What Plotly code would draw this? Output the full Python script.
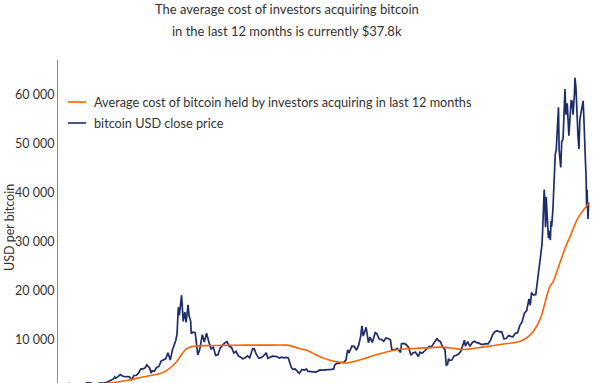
import plotly.graph_objects as go

# ---------------- data ----------------
price_dates = [
"2017-01-01","2017-01-04","2017-01-11","2017-01-15","2017-01-22","2017-01-29","2017-02-05","2017-02-12","2017-02-19","2017-02-26",
"2017-03-03","2017-03-12","2017-03-18","2017-03-26","2017-04-02","2017-04-09","2017-04-16","2017-04-23","2017-04-30","2017-05-07",
"2017-05-14","2017-05-21","2017-05-25","2017-05-28","2017-06-04","2017-06-11","2017-06-18","2017-06-25","2017-07-02","2017-07-09",
"2017-07-16","2017-07-23","2017-07-30","2017-08-06","2017-08-13","2017-08-20","2017-08-27","2017-09-01","2017-09-10","2017-09-14",
"2017-09-17","2017-09-24","2017-10-01","2017-10-08","2017-10-15","2017-10-22","2017-10-29","2017-11-05","2017-11-12","2017-11-19",
"2017-11-26","2017-11-29","2017-12-03","2017-12-07","2017-12-10","2017-12-17","2017-12-22","2017-12-27","2017-12-31",
"2018-01-06","2018-01-09","2018-01-14","2018-01-16","2018-01-21","2018-01-28","2018-02-05","2018-02-11","2018-02-19","2018-02-25",
"2018-03-04","2018-03-11","2018-03-18","2018-03-25","2018-04-01","2018-04-08","2018-04-15","2018-04-22","2018-04-29","2018-05-06",
"2018-05-13","2018-05-20","2018-05-27","2018-06-03","2018-06-10","2018-06-17","2018-06-24","2018-07-01","2018-07-08","2018-07-15",
"2018-07-24","2018-07-29","2018-08-05","2018-08-12","2018-08-19","2018-08-26","2018-09-04","2018-09-09","2018-09-16","2018-09-23",
"2018-09-30","2018-10-07","2018-10-14","2018-10-21","2018-10-28","2018-11-04","2018-11-11","2018-11-14","2018-11-20","2018-11-25",
"2018-12-02","2018-12-09","2018-12-15","2018-12-23","2018-12-30",
"2019-01-06","2019-01-10","2019-01-20","2019-01-27","2019-02-03","2019-02-10","2019-02-17","2019-02-24","2019-03-03","2019-03-10",
"2019-03-17","2019-03-24","2019-03-31","2019-04-03","2019-04-10","2019-04-17","2019-04-24","2019-05-01","2019-05-08","2019-05-13",
"2019-05-17","2019-05-26","2019-06-02","2019-06-09","2019-06-16","2019-06-22","2019-06-26","2019-06-30","2019-07-09","2019-07-16",
"2019-07-21","2019-07-28","2019-08-06","2019-08-11","2019-08-18","2019-08-25","2019-09-01","2019-09-08","2019-09-15","2019-09-22",
"2019-09-26","2019-10-06","2019-10-13","2019-10-23","2019-10-26","2019-11-03","2019-11-10","2019-11-17","2019-11-24","2019-12-01",
"2019-12-08","2019-12-17","2019-12-22","2019-12-29",
"2020-01-05","2020-01-12","2020-01-19","2020-01-26","2020-02-02","2020-02-09","2020-02-13","2020-02-16","2020-02-23","2020-03-01",
"2020-03-08","2020-03-12","2020-03-16","2020-03-19","2020-03-22","2020-03-29","2020-04-05","2020-04-12","2020-04-19","2020-04-26",
"2020-05-03","2020-05-07","2020-05-10","2020-05-17","2020-05-24","2020-05-31","2020-06-07","2020-06-14","2020-06-21","2020-06-28",
"2020-07-05","2020-07-12","2020-07-19","2020-07-26","2020-08-02","2020-08-09","2020-08-16","2020-08-23","2020-08-30","2020-09-06",
"2020-09-13","2020-09-20","2020-09-27","2020-10-04","2020-10-11","2020-10-18","2020-10-25","2020-11-01","2020-11-08","2020-11-15",
"2020-11-22","2020-11-26","2020-11-30","2020-12-06","2020-12-13","2020-12-20","2020-12-27",
"2021-01-01","2021-01-03","2021-01-06","2021-01-08","2021-01-10","2021-01-12","2021-01-14","2021-01-17","2021-01-21","2021-01-24",
"2021-01-27","2021-01-29","2021-01-31","2021-02-04","2021-02-08","2021-02-11","2021-02-14","2021-02-17","2021-02-21","2021-02-23",
"2021-02-26","2021-02-28","2021-03-03","2021-03-07","2021-03-10","2021-03-13","2021-03-16","2021-03-20","2021-03-25","2021-03-28",
"2021-04-01","2021-04-04","2021-04-07","2021-04-11","2021-04-13","2021-04-16","2021-04-18","2021-04-22","2021-04-25","2021-04-28",
"2021-05-02","2021-05-05","2021-05-08","2021-05-10","2021-05-12","2021-05-15","2021-05-17","2021-05-19","2021-05-20","2021-05-23",
"2021-05-25",
]
price_values = [
998,1150,780,820,925,915,1015,1000,1050,1150,
1280,1230,970,960,1100,1200,1180,1250,1350,1590,
1780,2050,2450,2200,2520,2950,2650,2500,2550,2500,
1930,2750,2750,3230,4070,4090,4350,4900,4250,3250,
3700,3650,4400,4600,5700,6000,6150,7400,5900,8000,
9300,9900,11200,16700,15000,19100,13800,15700,13600,
17200,15000,13800,11300,11600,11500,6950,8100,11100,9600,
11400,9600,8200,8500,6850,7000,8350,8900,9400,9650,
8700,8500,7350,7700,6750,6500,6150,6350,6750,6350,
8200,8200,7000,6300,6400,6700,7400,6250,6500,6700,
6650,6600,6300,6500,6350,6450,6350,5600,4450,4000,
4100,3600,3200,4000,3850,
4050,3630,3550,3550,3450,3650,3900,3850,3850,3950,
4000,4000,4100,4900,5300,5250,5450,5400,5950,8000,
7350,8750,8700,7950,8950,10700,12900,10800,12600,9450,
10600,9500,11500,11300,10200,10150,9750,10400,10300,10000,
8100,7950,8300,7450,9250,9300,9050,8500,6900,7400,
7500,6650,7500,7300,
7750,8200,8700,8600,9350,10150,10350,9900,9650,8550,
8050,4850,5000,6200,5800,5900,6750,6900,7150,7700,
8900,9950,8750,9650,8700,9450,9750,9450,9350,9100,
9100,9250,9200,9900,11100,11700,11900,11650,11700,10250,
10300,10900,10750,10650,11400,11500,13000,13750,15500,16000,
18400,17100,19700,19150,19250,23500,26500,
29400,32100,36800,40700,38200,33000,39200,36000,30800,32300,
30400,34300,33100,36900,46200,47900,48700,52100,57500,48800,
46300,45200,50500,51000,55900,61200,56000,58300,51700,55900,
58800,58700,56000,60000,63500,61300,56200,51800,49000,55000,
56600,57400,58800,55800,49700,46700,43500,37000,40700,34700,
38000,
]

cost_dates = [
"2017-01-01","2017-02-15","2017-04-01","2017-05-04","2017-06-04","2017-07-05","2017-08-05","2017-09-05","2017-10-06","2017-10-25",
"2017-11-15","2017-12-01","2017-12-16","2017-12-27","2018-01-06","2018-01-17","2018-01-28","2018-03-01","2018-05-01","2018-07-01",
"2018-09-01","2018-11-01","2018-11-20","2018-12-10","2019-01-07","2019-02-01","2019-02-25","2019-03-20","2019-04-15","2019-05-10",
"2019-06-01","2019-06-29","2019-07-25","2019-08-20","2019-09-15","2019-10-12","2019-11-15","2019-12-22","2020-01-25","2020-02-22",
"2020-03-10","2020-04-03","2020-05-04","2020-06-01","2020-06-26","2020-07-27","2020-09-05","2020-10-05","2020-10-28","2020-11-20",
"2020-12-08","2020-12-29","2021-01-16","2021-01-25","2021-02-04","2021-02-25","2021-03-15","2021-03-28","2021-04-19","2021-05-05",
"2021-05-25",
]
cost_values = [
650,750,900,1200,1430,1800,2250,2650,3060,3500,
4490,5500,6940,7900,8370,8650,8775,8850,8900,8950,
8950,8950,8800,8350,7900,7100,6350,5850,5500,5300,
5600,6100,6700,7200,7650,8000,8200,8350,8450,8550,
8500,8300,8050,8250,8500,8780,9180,9450,9800,10700,
12000,14700,19000,20900,21800,25700,29000,31000,34500,36200,
37800,
]

series_names = ["Average cost of bitcoin held by investors acquiring in last 12 months",
                "bitcoin USD close price"]
y_ticks = [10000, 20000, 30000, 40000, 50000, 60000]
y_tick_text = ["10 000", "20 000", "30 000", "40 000", "50 000", "60 000"]
title_lines = ["The average cost of investors acquiring bitcoin",
               "in the last 12 months is currently $37.8k"]
y_title = "USD per bitcoin"

ORANGE = "#FF6200"
NAVY = "#1d2c6b"
TXT = "#333333"
FONT = "Lato"

# ---------------- figure ----------------
fig = go.Figure()
fig.add_trace(go.Scatter(x=price_dates, y=price_values, mode="lines",
                         line=dict(color=NAVY, width=1.7), name=series_names[1],
                         showlegend=False))
fig.add_trace(go.Scatter(x=cost_dates, y=cost_values, mode="lines",
                         line=dict(color=ORANGE, width=1.6, shape="spline", smoothing=0.6),
                         name=series_names[0], showlegend=False))

W, H = 600, 383
L, R, T, B = 58, 0, 60, 0
pw, ph = W - L - R, H - T - B

def px(x):
    return (x - L) / pw

def py(y):
    return (H - B - y) / ph

# manual legend
leg = [(series_names[0], ORANGE, 102), (series_names[1], NAVY, 123)]
shapes = []
annotations = []
for name, col, yy in leg:
    shapes.append(dict(type="line", xref="paper", yref="paper",
                       x0=px(68), x1=px(86), y0=py(yy), y1=py(yy),
                       line=dict(color=col, width=1.6)))
    annotations.append(dict(text=name, xref="paper", yref="paper", x=px(92), y=py(yy),
                            xanchor="left", yanchor="middle", showarrow=False,
                            font=dict(family=FONT, size=12.7, color=TXT)))

annotations.append(dict(text=y_title, xref="paper", yref="paper", x=px(9), y=py(228),
                        xanchor="center", yanchor="middle", textangle=-90, showarrow=False,
                        font=dict(family=FONT, size=12.5, color=TXT)))

# title as two centred lines
for line_text, yy in zip(title_lines, [9.5, 30.5]):
    annotations.append(dict(text=line_text, xref="paper", yref="paper", x=px(287), y=py(yy),
                            xanchor="center", yanchor="middle", showarrow=False,
                            font=dict(family=FONT, size=13, color=TXT)))

fig.update_layout(
    width=W, height=H,
    margin=dict(l=L, r=R, t=T, b=B, pad=0),
    paper_bgcolor="white", plot_bgcolor="white",
    font=dict(family=FONT, color=TXT),
    showlegend=False,
    hovermode=False,
    shapes=shapes,
    annotations=annotations,
)
fig.update_xaxes(visible=False, range=["2016-12-01", "2021-06-29"], showgrid=False,
                 automargin=False)
fig.update_yaxes(range=[1224, 67143], showgrid=False, zeroline=False, automargin=False,
                 showline=True, linecolor="#8a8a8a", linewidth=1,
                 tickvals=y_ticks, ticktext=y_tick_text, ticks="",
                 tickfont=dict(family=FONT, size=12.5, color=TXT))

fig.write_html("out.html", config={"displayModeBar": False},
               post_script="document.body.style.margin='0';document.body.style.overflow='hidden';")
